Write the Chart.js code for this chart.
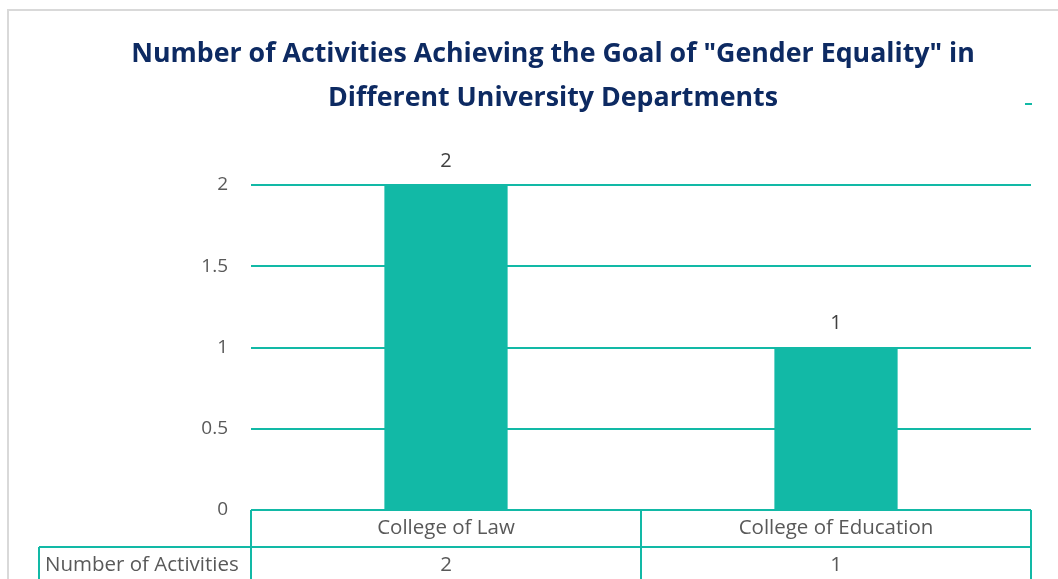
<!DOCTYPE html>
<html>
<head>
<meta charset="utf-8">
<script src="https://cdn.jsdelivr.net/npm/chart.js@4.4.1/dist/chart.umd.min.js"></script>
<style>
  html, body { margin: 0; padding: 0; background: #fff; overflow: hidden; }
  #frame { position: absolute; left: 7px; top: 9px; width: 1100px; height: 620px; border: 2px solid #d9d9d9; }
  #wrap { position: absolute; left: 0; top: 0; width: 1058px; height: 579px; }
</style>
</head>
<body>
<div id="frame"></div>
<div id="wrap"><canvas id="chart"></canvas></div>
<script>
// Chart data
const categories = ['College of Law', 'College of Education'];
const activityCounts = [2, 1];
const seriesName = 'Number of Activities';
const titleLines = ['Number of Activities Achieving the Goal of "Gender Equality" in', 'Different University Departments'];

const teal = '#12b9a6';
const navy = '#0d2a62';
const textGray = '#595959';
const fontFamily = '"Open Sans", "Liberation Sans", sans-serif';

// Title, value labels and data table
const decorPlugin = {
    id: 'decor',
    afterDraw(chart) {
        const ctx = chart.ctx;
        const area = chart.chartArea;
        const x = chart.scales.x;
        ctx.save();

        // title, sized to the reference width
        let size = 26;
        ctx.font = `bold ${size}px ${fontFamily}`;
        const w = ctx.measureText(titleLines[0]).width;
        size = size * 844 / w;
        ctx.font = `bold ${size}px ${fontFamily}`;
        ctx.fillStyle = navy;
        ctx.textAlign = 'center';
        ctx.textBaseline = 'alphabetic';
        ctx.fillText(titleLines[0], 553, 62);
        ctx.fillText(titleLines[1], 553, 106);

        // small legend dash
        ctx.fillStyle = teal;
        ctx.fillRect(1025, 103, 7, 2);

        // value labels
        ctx.font = `20px ${fontFamily}`;
        ctx.fillStyle = '#404040';
        ctx.textBaseline = 'middle';
        chart.getDatasetMeta(0).data.forEach((bar, i) => {
            ctx.fillText(String(activityCounts[i]), bar.x, bar.y - 24);
        });

        // data table
        const top = area.bottom;
        const mid = top + 37;
        const bottom = chart.height + 5;
        const edges = [area.left];
        categories.forEach((c, i) => {
            const half = (x.getPixelForValue(1) - x.getPixelForValue(0)) / 2;
            edges.push(x.getPixelForValue(i) + half);
        });
        ctx.strokeStyle = teal;
        ctx.lineWidth = 2;
        ctx.beginPath();
        ctx.moveTo(area.left, top); ctx.lineTo(area.right, top);
        ctx.moveTo(39, mid); ctx.lineTo(area.right, mid);
        edges.forEach(e => { ctx.moveTo(e, top); ctx.lineTo(e, bottom); });
        ctx.moveTo(39, mid); ctx.lineTo(39, bottom);
        ctx.stroke();

        ctx.fillStyle = textGray;
        ctx.font = `20.5px ${fontFamily}`;
        ctx.textAlign = 'center';
        categories.forEach((c, i) => {
            const cx = x.getPixelForValue(i);
            ctx.fillText(c, cx, top + 18);
            ctx.fillText(String(activityCounts[i]), cx, mid + 18);
        });
        ctx.textAlign = 'left';
        ctx.fillText(seriesName, 45, mid + 18);
        ctx.restore();
    }
};

new Chart(document.getElementById('chart'), {
    type: 'bar',
    data: {
        labels: categories,
        datasets: [{
            label: seriesName,
            data: activityCounts,
            backgroundColor: teal,
            borderWidth: 0,
            categoryPercentage: 1,
            barPercentage: 0.316
        }]
    },
    options: {
        responsive: true,
        maintainAspectRatio: false,
        animation: false,
        layout: { padding: { top: 185, right: 27, bottom: 69, left: 0 } },
        plugins: { legend: { display: false }, title: { display: false }, tooltip: { enabled: false } },
        scales: {
            x: { display: false },
            y: {
                min: 0,
                max: 2,
                afterFit(scale) { scale.width = 251; },
                border: { display: false },
                grid: {
                    color: ctx => ctx.tick.value === 0 ? 'rgba(0,0,0,0)' : teal,
                    lineWidth: 2,
                    drawTicks: false
                },
                ticks: {
                    stepSize: 0.5,
                    padding: 23,
                    color: textGray,
                    font: { family: fontFamily, size: 19 },
                    callback: v => String(v)
                }
            }
        }
    },
    plugins: [decorPlugin]
});
</script>
</body>
</html>
